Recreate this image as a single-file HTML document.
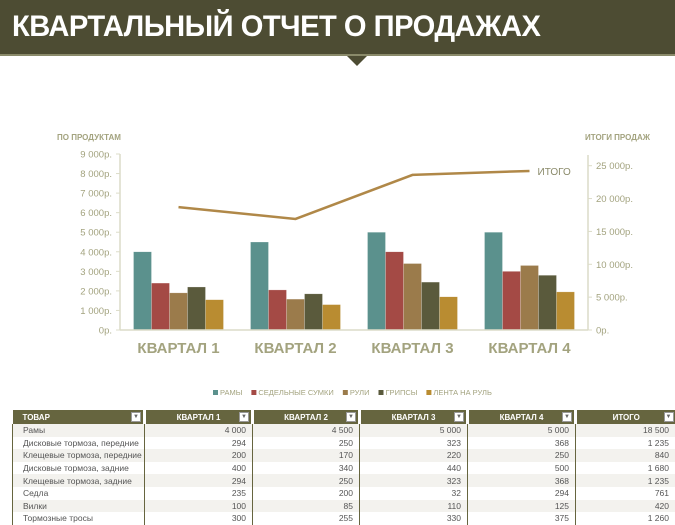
<!DOCTYPE html>
<html><head><meta charset="utf-8">
<style>
*{margin:0;padding:0;box-sizing:border-box}
body{width:675px;height:520px;overflow:hidden;background:#fff;font-family:"Liberation Sans","Noto Sans CJK SC",sans-serif;position:relative}
#hdr{position:absolute;left:0;top:0;width:675px;height:56px;background:#4d4c33;border-bottom:2px solid #8a8a6a}
#hdr h1{position:absolute;left:12px;top:10px;color:#fff;font-size:30px;font-weight:bold;letter-spacing:-0.5px;transform:scaleX(0.97);transform-origin:left;white-space:nowrap}
#tri{position:absolute;left:347px;top:56px;width:0;height:0;border-left:10px solid transparent;border-right:10px solid transparent;border-top:10px solid #4d4c33}
svg{position:absolute;left:0;top:0}
table{position:absolute;left:12px;top:410px;border-collapse:collapse;font-size:8.5px;color:#555;table-layout:fixed;width:663px}
th{background:#66653f;color:#fff;font-weight:bold;height:14px;font-size:8px;position:relative;border-left:3px solid #fff;text-align:center;white-space:nowrap}
th:first-child{border-left:none;text-align:left;padding-left:10px}
th span.dd{position:absolute;right:2px;top:2px;width:10px;height:10px;background:#fff;border:1px solid #999;font-size:6px;color:#666;line-height:9px;text-align:center}
td{height:12.6px;padding:0 6px;text-align:right;border-left:1px solid #66653f;border-right:1px solid #66653f;white-space:nowrap;overflow:hidden;line-height:12px}
td:first-child{text-align:left;padding-left:10px}
tr:nth-child(even) td{background:#f3f2ee}
</style></head><body>
<div id="hdr"><h1>КВАРТАЛЬНЫЙ ОТЧЕТ О ПРОДАЖАХ</h1></div>
<div id="tri"></div>
<svg id="chart" width="675" height="405"></svg>
<table>
<tr>
<th style="width:132px">ТОВАР<span class="dd">▼</span></th>
<th style="width:108px">КВАРТАЛ 1<span class="dd">▼</span></th>
<th style="width:107px">КВАРТАЛ 2<span class="dd">▼</span></th>
<th style="width:108px">КВАРТАЛ 3<span class="dd">▼</span></th>
<th style="width:108px">КВАРТАЛ 4<span class="dd">▼</span></th>
<th style="width:100px">ИТОГО<span class="dd">▼</span></th>
</tr>
<tr><td>Рамы</td><td>4 000</td><td>4 500</td><td>5 000</td><td>5 000</td><td>18 500</td></tr>
<tr><td>Дисковые тормоза, передние</td><td>294</td><td>250</td><td>323</td><td>368</td><td>1 235</td></tr>
<tr><td>Клещевые тормоза, передние</td><td>200</td><td>170</td><td>220</td><td>250</td><td>840</td></tr>
<tr><td>Дисковые тормоза, задние</td><td>400</td><td>340</td><td>440</td><td>500</td><td>1 680</td></tr>
<tr><td>Клещевые тормоза, задние</td><td>294</td><td>250</td><td>323</td><td>368</td><td>1 235</td></tr>
<tr><td>Седла</td><td>235</td><td>200</td><td>32</td><td>294</td><td>761</td></tr>
<tr><td>Вилки</td><td>100</td><td>85</td><td>110</td><td>125</td><td>420</td></tr>
<tr><td>Тормозные тросы</td><td>300</td><td>255</td><td>330</td><td>375</td><td>1 260</td></tr>
</table>
<script>
const categories=["КВАРТАЛ 1","КВАРТАЛ 2","КВАРТАЛ 3","КВАРТАЛ 4"];
const seriesNames=["РАМЫ","СЕДЕЛЬНЫЕ СУМКИ","РУЛИ","ГРИПСЫ","ЛЕНТА НА РУЛЬ"];
const frames=[4000,4500,5000,5000];
const saddleBags=[2400,2050,4000,3000];
const handlebars=[1900,1580,3400,3300];
const grips=[2200,1850,2450,2800];
const tape=[1550,1300,1700,1950];
const totals=[18700,16900,23600,24200];
const leftTicks=[0,1000,2000,3000,4000,5000,6000,7000,8000,9000];
const rightTicks=[0,5000,10000,15000,20000,25000];
const colors=["#5b918d","#a44a45","#9b7b4b","#5a5a3c","#b98c31"];
const NS="http://www.w3.org/2000/svg";
const svg=document.getElementById('chart');
const X0=120,X1=588,Y0=330;
const yL=v=>Y0-v*(176/9000);
const yR=v=>Y0-v*(164.3/25000);
const gw=(X1-X0)/categories.length;
const bw=18;
const xC=i=>X0+gw*(i+0.5);
function mk(t,a){const e=document.createElementNS(NS,t);for(const k in a)e.setAttribute(k,a[k]);svg.appendChild(e);return e;}
const axc="#a3a37f";
let e;
e=mk('line',{x1:X0,y1:154,x2:X0,y2:Y0,stroke:"#dcdcc8","stroke-width":1.5});


e=mk('line',{x1:X1,y1:155,x2:X1,y2:Y0,stroke:"#dcdcc8","stroke-width":1.5});


leftTicks.forEach(v=>{
 const t=mk('text',{x:X0-8,y:yL(v)+3.5,"text-anchor":"end","font-size":"9.5",fill:axc});
 t.textContent=(v===0?"0":(v/1000)+" 000")+"р.";
 
 
 const l=mk('line',{x1:X0-4,y1:yL(v),x2:X0,y2:yL(v),stroke:"#dcdcc8"});
 
 
});
rightTicks.forEach(v=>{
 const t=mk('text',{x:X1+8,y:yR(v)+3.5,"font-size":"9.5",fill:axc});
 t.textContent=(v===0?"0":(v/1000)+" 000")+"р.";
 
 
 const l=mk('line',{x1:X1,y1:yR(v),x2:X1+4,y2:yR(v),stroke:"#dcdcc8"});
 
 
});
e=mk('text',{x:57,y:140,"font-size":"8",fill:axc,"font-weight":"bold"});e.textContent="ПО ПРОДУКТАМ";


e=mk('text',{x:585,y:140,"font-size":"8",fill:axc,"font-weight":"bold"});e.textContent="ИТОГИ ПРОДАЖ";


const series=[frames,saddleBags,handlebars,grips,tape];
categories.forEach((c,i)=>{
 series.forEach((s,j)=>{
  const x=xC(i)-bw*2.5+j*bw;
  const r=mk('rect',{x:x,y:yL(s[i]),width:bw,height:Y0-yL(s[i]),fill:colors[j],stroke:"rgba(255,255,255,0.5)","stroke-width":0.5});
  
  
 });
 const t=mk('text',{x:xC(i),y:353,"text-anchor":"middle","font-size":"15",fill:axc,"font-weight":"bold"});
 t.textContent=c;
 
 
});
e=mk('line',{x1:X0,y1:Y0,x2:X1,y2:Y0,stroke:"#dcdcc8","stroke-width":1.5});


const pts=totals.map((v,i)=>xC(i)+","+yR(v)).join(" ");
e=mk('polyline',{points:pts,fill:"none",stroke:"#b08848","stroke-width":2.5});


e=mk('text',{x:xC(3)+8,y:yR(totals[3])+4,"font-size":"10",fill:"#8a8a6a"});e.textContent="ИТОГО";


let lx=213;
seriesNames.forEach((n,j)=>{
 const r=mk('rect',{x:lx,y:390,width:5,height:5,fill:colors[j]});
 
 
 const t=mk('text',{x:lx+7,y:395,"font-size":"7.5",fill:axc});
 t.textContent=n;
 
 
 lx+=t.getComputedTextLength()+16;
});
</script>
</body></html>
